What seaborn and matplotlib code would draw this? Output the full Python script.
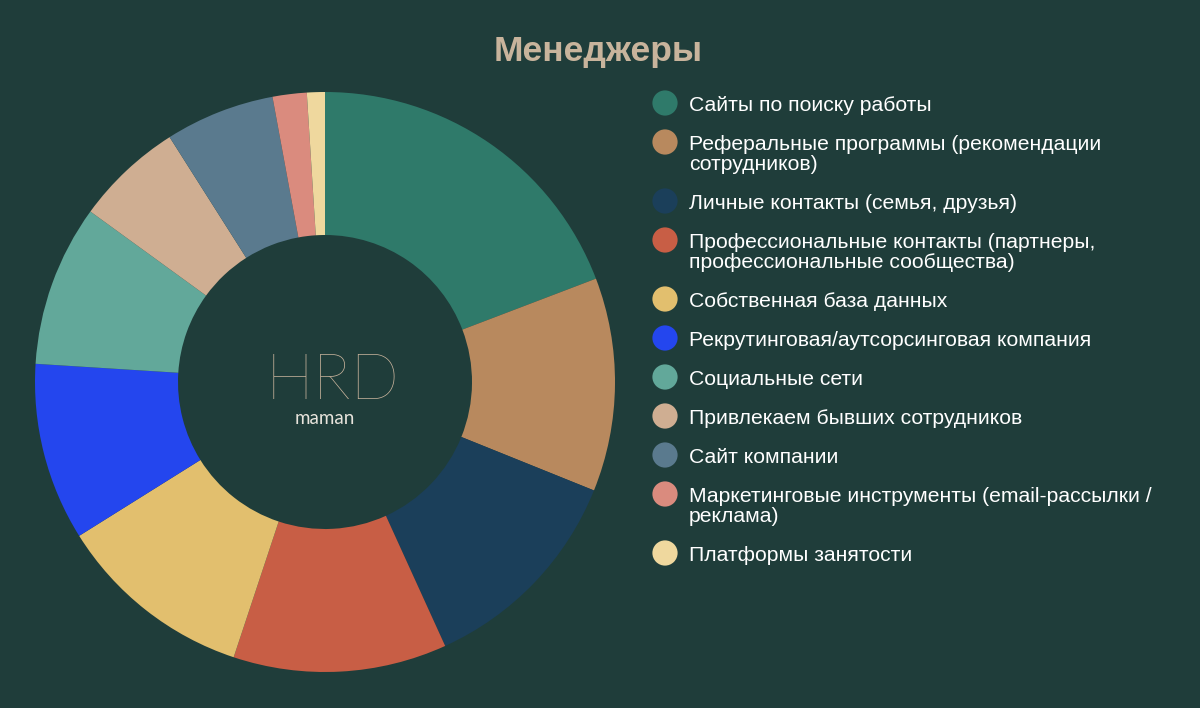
import matplotlib
matplotlib.use("Agg")
import matplotlib.pyplot as plt
import seaborn as sns

categories = [
    "Сайты по поиску работы",
    "Реферальные программы (рекомендации\nсотрудников)",
    "Личные контакты (семья, друзья)",
    "Профессиональные контакты (партнеры,\nпрофессиональные сообщества)",
    "Собственная база данных",
    "Рекрутинговая/аутсорсинговая компания",
    "Социальные сети",
    "Привлекаем бывших сотрудников",
    "Сайт компании",
    "Маркетинговые инструменты (email-рассылки /\nреклама)",
    "Платформы занятости",
]
values = [19.2, 11.9, 12.1, 11.9, 11.0, 9.9, 9.0, 6.0, 6.1, 1.9, 1.0]
colors = ["#2f7a6a", "#b8895e", "#1b3f5a", "#c85e45", "#e2bf6e", "#2446ee",
          "#62a89a", "#cfae92", "#5a7a8e", "#da8b7e", "#efd89e"]
title = "Менеджеры"

BG = "#1f3d3a"
sns.set_theme(style="white")
plt.rcParams["font.family"] = ["Liberation Sans", "DejaVu Sans"]

fig = plt.figure(figsize=(12, 7.08), dpi=100, facecolor=BG)

# pie axes: center (325,382) px, radius 290 px
ax = fig.add_axes([35 / 1200, 36 / 708, 580 / 1200, 580 / 708])
ax.set_facecolor(BG)
ax.pie(values, colors=colors, startangle=90, counterclock=False,
       radius=1.0, wedgeprops=dict(width=1 - 147 / 290, linewidth=0))
ax.set_xlim(-1, 1)
ax.set_ylim(-1, 1)
ax.set_aspect("equal")
ax.axis("off")

# overlay for text in pixel coords
ov = fig.add_axes([0, 0, 1, 1], facecolor="none")
ov.set_xlim(0, 1200)
ov.set_ylim(708, 0)
ov.axis("off")

ov.text(598, 52, title, ha="center", va="center", fontsize=25.5,
        fontweight="bold", color="#c8b49c")

# logo
ov.text(333, 382, "HRD", ha="center", va="center", fontsize=46,
        fontweight="light", color="#c9b49d", family=["Lato", "DejaVu Sans"])
ov.text(325, 418, "maman", ha="center", va="center", fontsize=13.5,
        color="#e8e4dc", family=["Lato", "DejaVu Sans"])

# legend
FS = 15.2
cap = 0.72 * FS * 100 / 72
y = 103
for lab, c in zip(categories, colors):
    ov.scatter([665], [y], s=330, color=c, edgecolors="none")
    lines = lab.split("\n")
    for i, ln in enumerate(lines):
        ov.text(689, y + cap / 2 + 20 * i, ln, ha="left", va="baseline",
                fontsize=FS, color="white")
    y += 39 + 20 * (len(lines) - 1)

fig.savefig("out.png", dpi=100, facecolor=BG)
